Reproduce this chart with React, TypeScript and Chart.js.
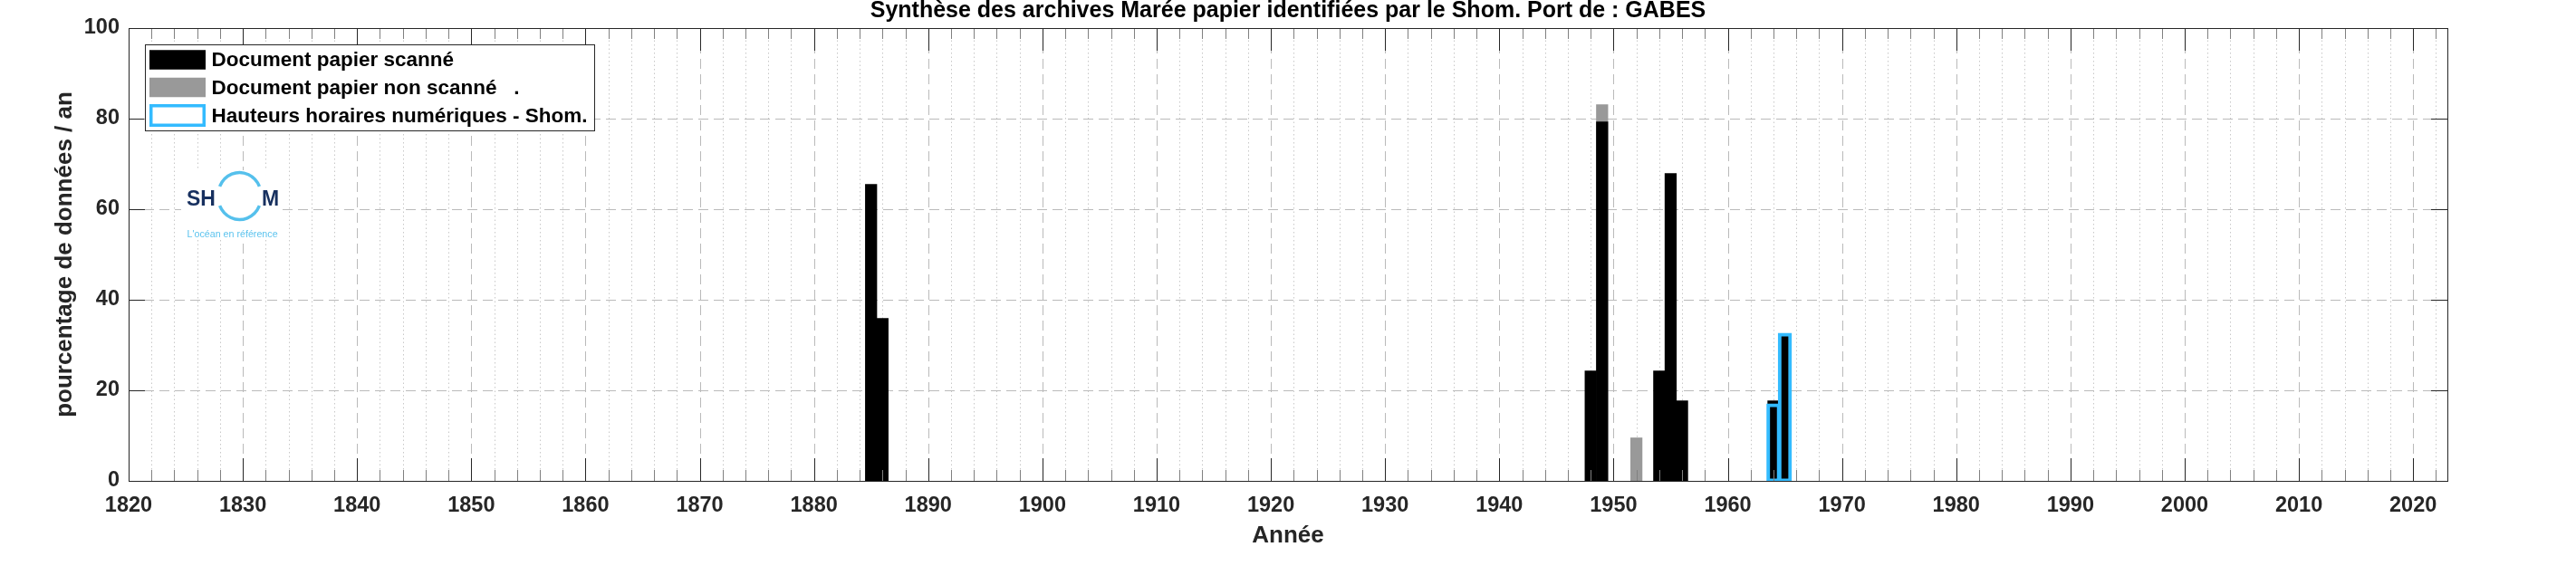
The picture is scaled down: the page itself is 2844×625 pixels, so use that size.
import React, { useEffect, useRef } from 'react';
import { Chart, registerables } from 'chart.js';

Chart.register(...registerables);

// ---------- data ----------
const chartTitle = 'Synthèse des archives Marée papier identifiées par le Shom. Port de : GABES';
const xAxisTitle = 'Année';
const yAxisTitle = 'pourcentage de données / an';

const legendLabels = [
  'Document papier scanné',
  'Document papier non scanné   .',
  'Hauteurs horaires numériques - Shom.',
];

const scannedYears = [1885, 1886, 1948, 1949, 1954, 1955, 1956, 1964, 1965];
const scannedValues = [65.5, 35.9, 24.3, 79.3, 24.3, 67.9, 17.7, 17.7, 32.4];

const nonScannedYears = [1949, 1952];
const nonScannedValues = [83.1, 9.5];

const numericYears = [1964, 1965];
const numericValues = [16.8, 32.4];

const xMin = 1820;
const xMax = 2023;
const xMajorStep = 10;
const xMinorStep = 2;
const yMin = 0;
const yMax = 100;
const yStep = 20;

const logoLetters = ['SH', 'M'];
const logoTagline = "L'océan en référence";

// ---------- layout / style ----------
const WIDTH = 2844;
const HEIGHT = 625;
const PLOT_LEFT = 142;
const PLOT_RIGHT = 2702;
const PLOT_BOTTOM = 531;
const FONT = '"Liberation Sans", Arial, Helvetica, sans-serif';
const AXIS_COLOR = '#262626';
const BLACK = '#000000';
const GRAY = '#999999';
const BLUE = 'rgb(51,187,255)';

const toPoints = (xs: number[], ys: number[]) => xs.map((x, i) => ({ x, y: ys[i] }));

const backgroundPlugin = {
  id: 'whiteBackground',
  beforeDraw(chart: any) {
    const { ctx } = chart;
    ctx.save();
    ctx.fillStyle = '#ffffff';
    ctx.fillRect(0, 0, chart.width, chart.height);
    ctx.restore();
  },
};

const gridPlugin = {
  id: 'matlabGrid',
  beforeDatasetsDraw(chart: any) {
    const { ctx, chartArea: a, scales } = chart;
    const xs = scales.x;
    const ys = scales.y;
    ctx.save();
    ctx.beginPath();
    ctx.rect(a.left, a.top, a.right - a.left, a.bottom - a.top);
    ctx.clip();
    ctx.lineWidth = 1;
    // minor x grid (dotted)
    ctx.strokeStyle = '#c8c8c8';
    ctx.setLineDash([1.5, 3]);
    for (let v = xMin + xMinorStep; v < xMax; v += xMinorStep) {
      if (v % xMajorStep === 0) continue;
      const px = Math.round(xs.getPixelForValue(v)) + 0.5;
      ctx.beginPath();
      ctx.moveTo(px, a.top);
      ctx.lineTo(px, a.bottom);
      ctx.stroke();
    }
    // major x grid (dashed)
    ctx.strokeStyle = '#bababa';
    ctx.setLineDash([11, 6]);
    for (let v = xMin + xMajorStep; v < xMax; v += xMajorStep) {
      const px = Math.round(xs.getPixelForValue(v)) + 0.5;
      ctx.beginPath();
      ctx.moveTo(px, a.top);
      ctx.lineTo(px, a.bottom);
      ctx.stroke();
    }
    // major y grid (dashed)
    for (let v = yMin + yStep; v < yMax; v += yStep) {
      const py = Math.round(ys.getPixelForValue(v)) + 0.5;
      ctx.beginPath();
      ctx.moveTo(a.left, py);
      ctx.lineTo(a.right, py);
      ctx.stroke();
    }
    ctx.restore();
  },
};

const axesPlugin = {
  id: 'matlabAxes',
  afterDatasetsDraw(chart: any) {
    const { ctx, chartArea: a, scales } = chart;
    const xs = scales.x;
    const ys = scales.y;
    ctx.save();
    ctx.lineWidth = 1;
    // minor x ticks
    ctx.strokeStyle = '#808080';
    for (let v = xMin + xMinorStep; v < xMax; v += xMinorStep) {
      if (v % xMajorStep === 0) continue;
      const px = Math.round(xs.getPixelForValue(v)) + 0.5;
      ctx.beginPath();
      ctx.moveTo(px, a.bottom);
      ctx.lineTo(px, a.bottom - 12);
      ctx.moveTo(px, a.top);
      ctx.lineTo(px, a.top + 12);
      ctx.stroke();
    }
    // major x ticks
    ctx.strokeStyle = AXIS_COLOR;
    for (let v = xMin + xMajorStep; v < xMax; v += xMajorStep) {
      const px = Math.round(xs.getPixelForValue(v)) + 0.5;
      ctx.beginPath();
      ctx.moveTo(px, a.bottom);
      ctx.lineTo(px, a.bottom - 25);
      ctx.moveTo(px, a.top);
      ctx.lineTo(px, a.top + 25);
      ctx.stroke();
    }
    // y ticks
    for (let v = yMin + yStep; v < yMax; v += yStep) {
      const py = Math.round(ys.getPixelForValue(v)) + 0.5;
      ctx.beginPath();
      ctx.moveTo(a.left, py);
      ctx.lineTo(a.left + 18, py);
      ctx.moveTo(a.right, py);
      ctx.lineTo(a.right - 18, py);
      ctx.stroke();
    }
    // frame
    ctx.strokeRect(Math.round(a.left) + 0.5, Math.round(a.top) + 0.5, Math.round(a.right - a.left), Math.round(a.bottom - a.top));
    ctx.restore();
  },
};

const legendPlugin = {
  id: 'boxedLegend',
  afterDraw(chart: any) {
    const { ctx, chartArea: a } = chart;
    const ds = chart.data.datasets;
    const rows = [ds[1], ds[2], ds[0]];
    ctx.save();
    ctx.font = `bold 22.5px ${FONT}`;
    const x0 = a.left + 17.5;
    const y0 = a.top + 18;
    const textX = x0 + 74;
    let maxW = 0;
    rows.forEach((d: any) => {
      maxW = Math.max(maxW, ctx.measureText(d.label).width);
    });
    const boxW = Math.round(textX - x0 + maxW + 7);
    const boxH = 95;
    ctx.fillStyle = '#ffffff';
    ctx.fillRect(x0, y0, boxW, boxH);
    ctx.strokeStyle = AXIS_COLOR;
    ctx.lineWidth = 1;
    ctx.strokeRect(Math.round(x0) + 0.5, Math.round(y0) + 0.5, boxW, boxH);
    const centers = [17, 47.5, 78.5];
    rows.forEach((d: any, i: number) => {
      const cy = y0 + centers[i];
      const sx = x0 + 5.5;
      const sw = 62;
      const sh = i === 2 ? 25 : 21.5;
      if (d.borderWidth && d.backgroundColor === 'rgba(0,0,0,0)') {
        ctx.fillStyle = d.borderColor;
        ctx.fillRect(sx, cy - sh / 2, sw, sh);
        ctx.fillStyle = '#ffffff';
        ctx.fillRect(sx + 3.5, cy - sh / 2 + 3.5, sw - 7, sh - 7);
      } else {
        ctx.fillStyle = d.backgroundColor;
        ctx.fillRect(sx, cy - sh / 2, sw, sh);
      }
      ctx.fillStyle = '#000000';
      ctx.textAlign = 'left';
      ctx.textBaseline = 'middle';
      ctx.fillText(d.label, textX, cy + 1);
    });
    ctx.restore();
  },
};

const logoPlugin = {
  id: 'shomLogo',
  afterDraw(chart: any) {
    const { ctx, chartArea: a } = chart;
    const ox = a.left + 58;
    const oy = a.top + 157;
    ctx.save();
    ctx.fillStyle = '#ffffff';
    ctx.fillRect(ox, oy, 112, 76);
    ctx.fillStyle = '#17305f';
    ctx.font = `bold 23px ${FONT}`;
    ctx.textBaseline = 'alphabetic';
    ctx.textAlign = 'left';
    ctx.fillText(logoLetters[0], ox + 6, oy + 39);
    ctx.fillText(logoLetters[1], ox + 89, oy + 39);
    const cx = ox + 64.5;
    const cy = oy + 28.5;
    ctx.strokeStyle = '#55c0ec';
    ctx.lineWidth = 3.5;
    const gap = 0.42;
    ctx.beginPath();
    ctx.ellipse(cx, cy, 24, 26, 0, Math.PI + gap, 2 * Math.PI - gap);
    ctx.stroke();
    ctx.beginPath();
    ctx.ellipse(cx, cy, 24, 26, 0, gap, Math.PI - gap);
    ctx.stroke();
    ctx.fillStyle = '#5cc3ee';
    ctx.font = `10.7px ${FONT}`;
    ctx.textBaseline = 'middle';
    ctx.fillText(logoTagline, ox + 6.5, oy + 71.5);
    ctx.restore();
  },
};

export default function App() {
  const canvasRef = useRef<HTMLCanvasElement | null>(null);

  useEffect(() => {
    const canvas = canvasRef.current;
    if (!canvas) return;
    const barCommon = {
      grouped: false,
      barPercentage: 1,
      categoryPercentage: 1,
    };
    const chart = new Chart(canvas, {
      type: 'bar',
      data: {
        datasets: [
          {
            ...barCommon,
            label: legendLabels[2],
            data: toPoints(numericYears, numericValues),
            backgroundColor: 'rgba(0,0,0,0)',
            borderColor: BLUE,
            borderWidth: 1,
            inflateAmount: 1.5,
            borderSkipped: false,
            order: 0,
          },
          {
            ...barCommon,
            label: legendLabels[0],
            data: toPoints(scannedYears, scannedValues),
            backgroundColor: BLACK,
            borderWidth: 0,
            order: 1,
          },
          {
            ...barCommon,
            label: legendLabels[1],
            data: toPoints(nonScannedYears, nonScannedValues),
            backgroundColor: GRAY,
            borderWidth: 0,
            order: 2,
          },
        ],
      } as any,
      options: {
        responsive: false,
        maintainAspectRatio: false,
        animation: false,
        devicePixelRatio: 1,
        events: [],
        layout: { padding: 0 },
        plugins: {
          legend: { display: false },
          tooltip: { enabled: false },
          title: {
            display: true,
            text: chartTitle,
            color: '#000000',
            font: { family: FONT, size: 25, weight: 'bold', lineHeight: 1.0 },
            padding: { top: 0, bottom: 6 },
          },
        },
        scales: {
          x: {
            type: 'linear',
            min: xMin,
            max: xMax,
            offset: false,
            grid: { display: false, drawTicks: false },
            border: { display: false },
            ticks: {
              stepSize: xMajorStep,
              includeBounds: false,
              autoSkip: false,
              maxRotation: 0,
              padding: 13,
              color: AXIS_COLOR,
              font: { family: FONT, size: 23.5, weight: 'bold', lineHeight: 1.2 },
              callback: (v: any) => String(v),
            },
            title: {
              display: true,
              text: xAxisTitle,
              color: AXIS_COLOR,
              font: { family: FONT, size: 26, weight: 'bold', lineHeight: 1.2 },
              padding: { top: 0, bottom: 18 },
            },
            afterFit: (s: any) => {
              s.height = HEIGHT - PLOT_BOTTOM;
            },
          },
          y: {
            type: 'linear',
            position: 'left',
            min: yMin,
            max: yMax,
            grid: { display: false, drawTicks: false },
            border: { display: false },
            ticks: {
              stepSize: yStep,
              padding: 10,
              color: AXIS_COLOR,
              font: { family: FONT, size: 23.5, weight: 'bold', lineHeight: 1.2 },
              callback: (v: any) => String(v),
            },
            title: {
              display: true,
              text: yAxisTitle,
              color: AXIS_COLOR,
              font: { family: FONT, size: 26, weight: 'bold', lineHeight: 1.2 },
              padding: { top: 56, bottom: 0 },
            },
            afterFit: (s: any) => {
              s.width = PLOT_LEFT;
            },
          },
          yRight: {
            type: 'linear',
            position: 'right',
            min: yMin,
            max: yMax,
            grid: { display: false, drawTicks: false },
            border: { display: false },
            ticks: { display: false },
            afterFit: (s: any) => {
              s.width = WIDTH - PLOT_RIGHT;
            },
          },
        },
      } as any,
      plugins: [backgroundPlugin, gridPlugin, axesPlugin, legendPlugin, logoPlugin],
    });
    return () => chart.destroy();
  }, []);

  return (
    <div style={{ position: 'fixed', left: 0, top: 0, width: WIDTH, height: HEIGHT, background: '#ffffff' }}>
      <canvas ref={canvasRef} width={WIDTH} height={HEIGHT} style={{ display: 'block', width: WIDTH, height: HEIGHT }} />
    </div>
  );
}
